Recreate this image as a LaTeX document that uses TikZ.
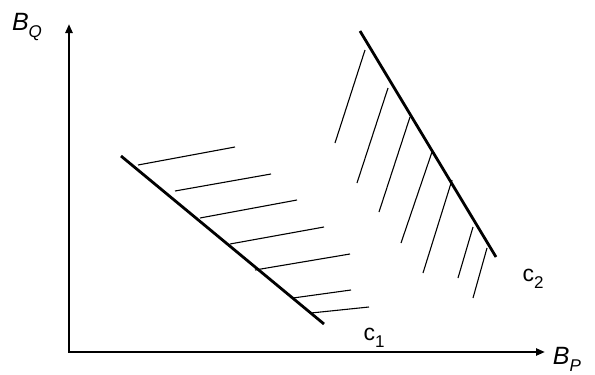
\documentclass[tikz,border=0pt]{standalone}
\usepackage{fontspec}
\setmainfont{Liberation Sans}
\usetikzlibrary{arrows.meta}
\definecolor{inkclr}{RGB}{0,0,0}
\newcommand{\lowsub}[1]{\raisebox{-0.28em}{\fontsize{17}{18}\selectfont #1}}
\tikzset{
  axisln/.style={{Triangle[length=9pt,width=7pt]}-{Triangle[length=9pt,width=7pt]},
    line width=2.8pt,color=inkclr},
  bndln/.style={line width=2.8pt,color=inkclr},
  hatchln/.style={line width=1.1pt,color=inkclr},
  axlbl/.style={font=\fontsize{25}{28}\selectfont\itshape,inner sep=0pt},
  crvlbl/.style={font=\fontsize{23}{26}\selectfont,inner sep=0pt},
}

\begin{document}
\begin{tikzpicture}[x=1pt,y=-1pt]
  \useasboundingbox (0,0) rectangle (595,375);

  % axes
  \coordinate (orig) at (69,352);
  \coordinate (qtip) at (69,24);
  \coordinate (ptip) at (545,352);
  \draw[axisln] (qtip) -- (orig) -- (ptip);
  \node[axlbl] (bq) at (27,27)  {B\lowsub{Q}};
  \node[axlbl] (bp) at (567,359) {B\lowsub{P}};

  % constraint c1 and its hatching
  \coordinate (c1a) at (121,156);
  \coordinate (c1b) at (324,324);
  \draw[bndln] (c1a) -- (c1b);
  \foreach \xa/\ya/\xb/\yb in {
    138/165/235/147,
    175/191/271/174,
    200/218/297/200,
    230/244/324/227,
    255/270/350/254,
    293/298/351/290,
    311/313/369/307}{
    \draw[hatchln] (\xa,\ya) -- (\xb,\yb);
  }
  \node[crvlbl] (c1) at (374,338) {c\lowsub{1}};

  % constraint c2 and its hatching
  \coordinate (c2a) at (360,31);
  \coordinate (c2b) at (496,257);
  \draw[bndln] (c2a) -- (c2b);
  \foreach \xa/\ya/\xb/\yb in {
    365/50/335/143,
    388/88/357/183,
    410/117/379/212,
    432/152/401/243,
    452/180/423/273,
    473/227/458/278,
    487/248/473/298}{
    \draw[hatchln] (\xa,\ya) -- (\xb,\yb);
  }
  \node[crvlbl] (c2) at (533,279) {c\lowsub{2}};

\end{tikzpicture}
\end{document}
